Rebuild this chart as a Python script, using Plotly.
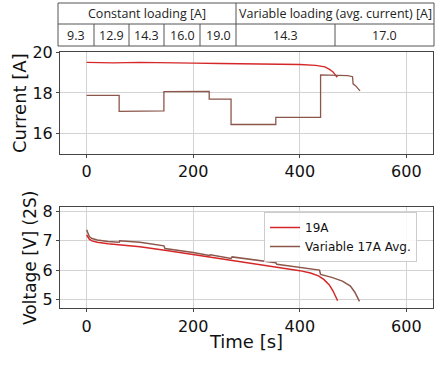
import plotly.graph_objects as go

# ---------------- data ----------------
t_cur_19 = [0, 50, 100, 150, 200, 250, 300, 350, 400, 430, 447, 455, 462, 466, 469, 471]
i_cur_19 = [19.5, 19.48, 19.5, 19.47, 19.47, 19.45, 19.44, 19.43, 19.4, 19.36, 19.28, 19.17, 19.04, 18.92, 18.8, 18.85]

t_cur_var = [0, 61, 61, 100, 145, 145, 230, 230, 271, 271, 355, 355, 439, 439, 490, 499, 500, 505, 508, 513]
i_cur_var = [17.88, 17.88, 17.1, 17.1, 17.12, 18.07, 18.08, 17.7, 17.7, 16.45, 16.45, 16.8, 16.8, 18.89, 18.85, 18.8, 18.45, 18.35, 18.25, 18.1]

t_v_19 = [0, 2, 5, 10, 20, 40, 70, 100, 150, 200, 250, 300, 350, 400, 420, 435, 445, 455, 462, 468, 471]
v_19 = [7.2, 7.12, 7.06, 7.0, 6.95, 6.9, 6.85, 6.8, 6.67, 6.53, 6.4, 6.27, 6.13, 5.98, 5.9, 5.8, 5.68, 5.5, 5.3, 5.1, 4.95]

t_v_var = [0, 2, 5, 10, 20, 40, 61, 62, 100, 145, 147, 200, 230, 232, 271, 273, 320, 355, 357, 400, 437, 439, 460, 480, 495, 503, 508, 512]
v_var = [7.38, 7.25, 7.15, 7.08, 7.03, 6.98, 6.95, 7.0, 6.95, 6.83, 6.74, 6.6, 6.5, 6.52, 6.4, 6.45, 6.35, 6.25, 6.2, 6.1, 6.0, 5.85, 5.75, 5.62, 5.45, 5.25, 5.1, 4.93]

series_names = ["19A", "Variable 17A Avg."]

table_header = ["Constant loading [A]", "Variable loading (avg. current) [A]"]
table_const = ["9.3", "12.9", "14.3", "16.0", "19.0"]
table_var = ["14.3", "17.0"]

x_ticks = [0, 200, 400, 600]

# ---------------- style ----------------
W, H = 442, 368
RED = "#d62728"
BROWN = "#8c564b"
FONT = "DejaVu Sans"
TFONT = "Open Sans"

def px(x):
    return x / W

def py(y):
    return 1 - y / H

fig = go.Figure()
fig.add_trace(go.Scatter(x=t_cur_19, y=i_cur_19, mode="lines", line=dict(color=RED, width=1.3),
                         xaxis="x", yaxis="y", showlegend=False))
fig.add_trace(go.Scatter(x=t_cur_var, y=i_cur_var, mode="lines", line=dict(color=BROWN, width=1.3),
                         xaxis="x", yaxis="y", showlegend=False))
fig.add_trace(go.Scatter(x=t_v_19, y=v_19, mode="lines", line=dict(color=RED, width=1.5),
                         xaxis="x2", yaxis="y2", name=series_names[0]))
fig.add_trace(go.Scatter(x=t_v_var, y=v_var, mode="lines", line=dict(color=BROWN, width=1.5),
                         xaxis="x2", yaxis="y2", name=series_names[1]))

axis_common = dict(showgrid=True, gridcolor="#d3d3d3", gridwidth=1, showline=True, linecolor="#444",
                   linewidth=1, mirror=True, ticks="outside", ticklen=3, tickcolor="#444",
                   tickfont=dict(family=FONT, size=16, color="#111"), zeroline=False, automargin=False)

fig.update_layout(
    width=W, height=H, margin=dict(l=0, r=0, t=0, b=0, autoexpand=False),
    paper_bgcolor="white", plot_bgcolor="white",
    xaxis=dict(domain=[px(60), px(433)], range=[-50, 650], tickvals=x_ticks, anchor="y", **axis_common),
    yaxis=dict(domain=[py(154), py(52.3)], range=[15, 20], tickvals=[16, 18, 20], anchor="x",
               title=dict(text="Current [A]", font=dict(family=FONT, size=18, color="#111"), standoff=1),
               **axis_common),
    xaxis2=dict(domain=[px(60), px(433)], range=[-50, 650], tickvals=x_ticks, anchor="y2",
                title=dict(text="Time [s]", font=dict(family=FONT, size=18, color="#111"), standoff=0),
                **axis_common),
    yaxis2=dict(domain=[py(308.3), py(207.3)], range=[4.69, 8.15], tickvals=[5, 6, 7, 8], anchor="x2",
                title=dict(text="Voltage [V] (2S)", font=dict(family=FONT, size=17, color="#111"), standoff=1),
                **axis_common),
    legend=dict(x=px(264), y=py(212), xanchor="left", yanchor="top", bgcolor="rgba(255,255,255,0.85)",
                bordercolor="#ccc", borderwidth=1, font=dict(family=FONT, size=12, color="#111"),
                tracegroupgap=0, itemwidth=30),
)

# ---------------- table (drawn as shapes + text) ----------------
L, R_, MID = 58, 434, 236
Y0, Y1, Y2 = 3, 24, 46
line_style = dict(color="#555", width=1)
shapes = []
for yy in (Y0, Y1, Y2):
    shapes.append(dict(type="line", xref="paper", yref="paper", x0=px(L), x1=px(R_), y0=py(yy), y1=py(yy), line=line_style))
for xx in (L, MID, R_):
    shapes.append(dict(type="line", xref="paper", yref="paper", x0=px(xx), x1=px(xx), y0=py(Y0), y1=py(Y2), line=line_style))
const_edges = [L, 94, 129, 164, 200, MID]
var_edges = [MID, 335, R_]
for xx in const_edges[1:-1] + var_edges[1:-1]:
    shapes.append(dict(type="line", xref="paper", yref="paper", x0=px(xx), x1=px(xx), y0=py(Y1), y1=py(Y2), line=line_style))
fig.update_layout(shapes=shapes)

tfont = dict(family=TFONT, size=12.5, color="#222")
ann = []
ann.append(dict(text=table_header[0], x=px((L + MID) / 2), y=py((Y0 + Y1) / 2)))
ann.append(dict(text=table_header[1], x=px((MID + R_) / 2), y=py((Y0 + Y1) / 2)))
for i, v in enumerate(table_const):
    ann.append(dict(text=v, x=px((const_edges[i] + const_edges[i + 1]) / 2), y=py((Y1 + Y2) / 2)))
for i, v in enumerate(table_var):
    ann.append(dict(text=v, x=px((var_edges[i] + var_edges[i + 1]) / 2), y=py((Y1 + Y2) / 2)))
for a in ann:
    a.update(xref="paper", yref="paper", showarrow=False, xanchor="center", yanchor="middle", font=tfont)
fig.update_layout(annotations=ann)

fig.write_html("out.html", config={"displayModeBar": False},
               post_script="document.body.style.margin='0';")
